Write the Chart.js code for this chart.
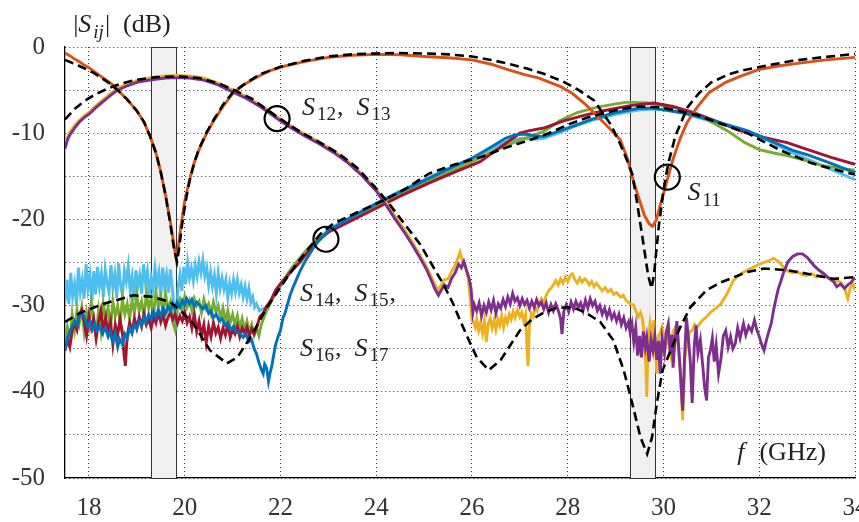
<!DOCTYPE html>
<html>
<head>
<meta charset="utf-8">
<script src="https://cdn.jsdelivr.net/npm/chart.js@4.4.1/dist/chart.umd.min.js"></script>
<style>
  html, body { margin: 0; padding: 0; background: #fff; }
  canvas { display: block; }
</style>
</head>
<body>
<canvas id="sChart" width="859" height="522"></canvas>
<script>
// axis ticks
const xTicks = [18, 20, 22, 24, 26, 28, 30, 32, 34];
const yGrid = [-50, -45, -40, -35, -30, -25, -20, -15, -10, -5, 0];
const yLabels = [-50, -40, -30, -20, -10, 0];

// shaded bands (GHz)
const bands = [[19.3, 19.83], [29.3, 29.83]];

// S11 measured / simulated
const s11Meas = [[17.5,-0.7],[17.6,-1.0],[17.7,-1.4],[17.8,-1.7],[17.9,-2.1],[18.0,-2.4],[18.1,-2.8],[18.2,-3.2],[18.35,-3.8],[18.5,-4.4],[18.6,-5.0],[18.8,-6.1],[19.0,-7.4],[19.15,-8.7],[19.28,-10.4],[19.4,-12.3],[19.5,-14.5],[19.6,-17.2],[19.7,-20.3],[19.77,-22.8],[19.82,-24.5],[19.86,-23.5],[19.92,-20.8],[20.0,-17.9],[20.1,-15.4],[20.2,-13.4],[20.3,-11.9],[20.45,-10.1],[20.6,-8.6],[20.8,-6.9],[21.0,-5.4],[21.2,-4.5],[21.5,-3.5],[21.8,-2.7],[22.1,-2.2],[22.5,-1.7],[23.0,-1.2],[23.5,-0.95],[24.0,-0.85],[24.5,-0.9],[25.0,-1.1],[25.5,-1.25],[26.0,-1.5],[26.4,-2.0],[26.8,-2.7],[27.1,-3.2],[27.4,-3.6],[27.85,-4.6],[28.1,-5.4],[28.4,-6.8],[28.65,-8.2],[28.9,-9.6],[29.1,-10.8],[29.25,-13.0],[29.37,-15.5],[29.5,-17.8],[29.6,-19.5],[29.7,-20.5],[29.77,-20.8],[29.84,-20.2],[29.93,-18.4],[30.05,-16.0],[30.2,-13.0],[30.35,-10.6],[30.5,-8.7],[30.7,-7.0],[30.95,-5.3],[31.3,-4.1],[31.6,-3.4],[32.0,-2.6],[32.4,-2.2],[32.8,-1.9],[33.4,-1.5],[34.0,-1.2]];
const s11Sim = [[17.5,-1.5],[17.8,-2.2],[18.1,-3.0],[18.4,-4.1],[18.6,-5.0],[18.8,-6.1],[19.0,-7.4],[19.15,-8.7],[19.28,-10.4],[19.4,-12.3],[19.5,-14.5],[19.6,-17.2],[19.7,-20.5],[19.78,-23.5],[19.84,-24.9],[19.88,-23.5],[19.94,-20.8],[20.02,-17.9],[20.1,-15.6],[20.2,-13.4],[20.3,-11.8],[20.45,-10.0],[20.6,-8.5],[20.8,-6.7],[21.0,-5.3],[21.3,-4.1],[21.6,-3.1],[22.0,-2.3],[22.5,-1.6],[23.0,-1.1],[23.5,-0.85],[24.0,-0.75],[24.5,-0.7],[25.0,-0.75],[25.5,-0.85],[26.0,-1.1],[26.4,-1.5],[26.8,-2.0],[27.15,-2.5],[27.5,-3.1],[27.9,-4.0],[28.2,-4.9],[28.55,-6.2],[28.9,-9.0],[29.1,-11.3],[29.25,-13.3],[29.35,-14.8],[29.45,-18.1],[29.58,-22.8],[29.68,-26.5],[29.75,-28.0],[29.8,-26.5],[29.9,-20.9],[30.0,-16.6],[30.1,-13.5],[30.25,-10.3],[30.5,-7.0],[30.75,-5.3],[31.0,-4.1],[31.35,-3.2],[31.66,-2.7],[32.2,-2.1],[32.7,-1.6],[33.3,-1.2],[34.0,-0.8]];

// S12 (yellow), S13 (purple) measured and S12 simulated
const s12Meas = [[17.5,-11.4],[17.55,-10.5],[17.6,-9.9],[17.7,-9.1],[17.8,-8.5],[17.9,-8.0],[18.0,-7.6],[18.15,-6.8],[18.3,-6.1],[18.45,-5.4],[18.6,-4.8],[18.8,-4.3],[19.0,-3.9],[19.3,-3.55],[19.6,-3.35],[19.85,-3.3],[20.1,-3.35],[20.4,-3.6],[20.7,-4.2],[21.0,-5.0],[21.3,-5.8],[21.6,-6.8],[21.93,-8.1],[22.2,-9.1],[22.5,-10.1],[22.8,-11.0],[23.1,-12.0],[23.4,-13.2],[23.7,-14.7],[24.0,-16.5],[24.2,-18.0],[24.4,-19.7],[24.6,-21.3],[24.75,-22.6],[24.92,-24.2],[25.05,-25.5],[25.13,-26.4],[25.22,-27.5],[25.3,-28.2],[25.36,-27.6],[25.42,-27.0],[25.5,-26.9],[25.58,-26.0],[25.65,-25.3],[25.7,-24.6],[25.75,-23.8],[25.8,-24.8],[25.86,-25.3],[25.92,-26.9],[25.97,-29.5],[26.0,-31.7],[26.04,-32.0],[26.07,-32.5],[26.1,-31.6],[26.14,-32.9],[26.18,-32.0],[26.22,-33.2],[26.26,-31.8],[26.3,-34.2],[26.34,-32.1],[26.38,-31.5],[26.42,-32.6],[26.46,-31.7],[26.5,-32.8],[26.54,-31.6],[26.58,-32.3],[26.62,-31.2],[26.66,-32.5],[26.7,-31.4],[26.74,-32.0],[26.78,-31.0],[26.82,-31.6],[26.86,-30.7],[26.9,-31.4],[26.95,-30.5],[27.0,-31.3],[27.04,-30.8],[27.08,-31.8],[27.12,-31.0],[27.15,-35.0],[27.17,-37.0],[27.2,-32.5],[27.24,-30.9],[27.28,-31.3],[27.32,-30.2],[27.36,-30.6],[27.4,-29.8],[27.45,-29.2],[27.5,-29.6],[27.55,-28.8],[27.6,-28.3],[27.65,-28.0],[27.7,-27.6],[27.75,-27.1],[27.8,-27.6],[27.85,-26.9],[27.9,-27.4],[27.95,-26.7],[28.0,-27.2],[28.05,-26.5],[28.1,-26.3],[28.15,-27.0],[28.2,-27.4],[28.25,-26.8],[28.3,-27.3],[28.35,-26.9],[28.4,-27.1],[28.45,-27.6],[28.5,-27.2],[28.55,-27.8],[28.6,-27.4],[28.67,-27.9],[28.72,-28.3],[28.78,-27.9],[28.84,-28.4],[28.9,-28.1],[28.96,-28.7],[29.02,-28.5],[29.1,-29.0],[29.16,-28.8],[29.22,-29.4],[29.3,-29.8],[29.37,-29.9],[29.42,-30.6],[29.47,-31.3],[29.52,-30.8],[29.56,-31.5],[29.6,-33.5],[29.63,-36.8],[29.65,-40.6],[29.68,-34.5],[29.72,-32.1],[29.76,-33.5],[29.8,-31.7],[29.83,-35.0],[29.86,-37.9],[29.9,-33.5],[29.93,-33.2],[29.97,-32.5],[30.02,-33.8],[30.06,-34.5],[30.1,-33.6],[30.15,-35.5],[30.2,-33.0],[30.25,-32.5],[30.3,-34.3],[30.35,-37.5],[30.4,-43.3],[30.45,-36.0],[30.5,-34.0],[30.55,-33.0],[30.6,-32.9],[30.65,-32.2],[30.7,-32.5],[30.8,-31.8],[30.9,-31.3],[31.0,-30.7],[31.1,-30.3],[31.2,-29.8],[31.3,-28.9],[31.4,-27.8],[31.46,-27.1],[31.55,-26.6],[31.65,-26.2],[31.75,-25.9],[31.85,-25.6],[32.0,-25.2],[32.1,-25.0],[32.2,-24.8],[32.3,-24.5],[32.4,-24.9],[32.5,-25.5],[32.6,-26.0],[32.7,-26.2],[32.8,-26.1],[32.9,-26.4],[33.0,-26.5],[33.1,-26.3],[33.2,-26.7],[33.3,-26.5],[33.4,-26.7],[33.5,-26.9],[33.6,-27.1],[33.7,-27.3],[33.75,-27.6],[33.8,-28.3],[33.85,-29.2],[33.9,-28.0],[33.95,-27.4],[34.0,-28.2]];
const s13Meas = [[17.5,-11.8],[17.55,-10.8],[17.6,-10.2],[17.7,-9.4],[17.8,-8.7],[17.9,-8.2],[18.0,-7.8],[18.15,-7.0],[18.3,-6.3],[18.45,-5.6],[18.6,-5.0],[18.8,-4.5],[19.0,-4.1],[19.3,-3.8],[19.6,-3.6],[19.85,-3.55],[20.1,-3.6],[20.4,-3.85],[20.7,-4.4],[21.0,-5.2],[21.3,-6.0],[21.6,-7.0],[21.93,-8.3],[22.2,-9.3],[22.5,-10.3],[22.8,-11.2],[23.1,-12.2],[23.4,-13.4],[23.7,-14.9],[24.0,-16.7],[24.2,-18.3],[24.4,-20.0],[24.6,-21.6],[24.75,-22.9],[24.92,-24.5],[25.05,-25.8],[25.13,-26.8],[25.22,-28.0],[25.3,-28.8],[25.36,-28.2],[25.42,-27.6],[25.5,-27.9],[25.58,-26.8],[25.65,-26.2],[25.72,-25.2],[25.78,-25.6],[25.83,-24.9],[25.88,-25.8],[25.94,-26.8],[25.98,-28.0],[26.02,-30.8],[26.05,-29.9],[26.1,-30.6],[26.15,-29.7],[26.2,-31.2],[26.25,-30.0],[26.3,-30.8],[26.35,-29.6],[26.4,-30.5],[26.45,-29.4],[26.5,-30.9],[26.55,-29.8],[26.6,-30.3],[26.65,-29.3],[26.7,-30.1],[26.75,-29.0],[26.8,-29.8],[26.85,-28.6],[26.9,-29.5],[26.95,-29.1],[27.0,-30.0],[27.05,-29.2],[27.1,-29.9],[27.15,-29.4],[27.2,-30.3],[27.25,-29.5],[27.3,-30.2],[27.35,-29.3],[27.4,-30.0],[27.45,-29.6],[27.5,-30.4],[27.55,-29.7],[27.6,-30.8],[27.65,-29.9],[27.7,-30.6],[27.75,-29.8],[27.8,-30.5],[27.85,-31.5],[27.88,-33.3],[27.92,-30.6],[27.97,-29.9],[28.02,-30.7],[28.07,-29.6],[28.12,-30.4],[28.17,-29.5],[28.22,-30.2],[28.27,-29.7],[28.32,-30.6],[28.37,-29.4],[28.42,-30.3],[28.47,-29.2],[28.52,-30.0],[28.57,-29.5],[28.62,-30.6],[28.67,-30.0],[28.72,-31.0],[28.77,-30.3],[28.82,-31.3],[28.87,-30.5],[28.92,-31.5],[28.97,-30.9],[29.02,-31.8],[29.07,-31.0],[29.12,-32.2],[29.17,-31.4],[29.22,-32.6],[29.27,-31.9],[29.3,-33.0],[29.34,-32.1],[29.38,-34.2],[29.42,-32.6],[29.46,-35.8],[29.5,-33.5],[29.54,-36.0],[29.58,-33.0],[29.62,-34.8],[29.65,-33.7],[29.7,-36.5],[29.74,-34.0],[29.78,-35.2],[29.82,-33.5],[29.86,-36.3],[29.9,-34.1],[29.93,-37.9],[29.97,-33.8],[30.02,-35.5],[30.06,-33.0],[30.1,-32.1],[30.14,-35.6],[30.18,-33.4],[30.2,-37.2],[30.24,-34.0],[30.28,-31.8],[30.32,-35.0],[30.36,-38.5],[30.4,-42.2],[30.44,-36.0],[30.48,-31.4],[30.52,-33.8],[30.56,-36.5],[30.6,-41.3],[30.64,-35.0],[30.68,-32.3],[30.72,-35.5],[30.77,-34.0],[30.82,-37.0],[30.86,-39.5],[30.9,-41.0],[30.94,-36.0],[30.98,-35.2],[31.02,-33.8],[31.06,-36.5],[31.1,-34.6],[31.15,-37.9],[31.2,-36.2],[31.25,-33.5],[31.3,-32.9],[31.35,-34.8],[31.4,-33.6],[31.45,-35.0],[31.5,-34.4],[31.55,-32.6],[31.6,-33.8],[31.67,-32.1],[31.72,-33.4],[31.78,-32.4],[31.84,-33.0],[31.9,-31.7],[31.95,-32.8],[32.0,-33.6],[32.05,-34.5],[32.1,-35.2],[32.15,-34.0],[32.2,-33.0],[32.25,-32.1],[32.3,-30.5],[32.35,-29.2],[32.4,-28.0],[32.45,-27.2],[32.5,-26.3],[32.55,-25.6],[32.6,-24.9],[32.7,-24.3],[32.8,-24.0],[32.9,-24.0],[33.0,-24.4],[33.06,-24.8],[33.15,-25.4],[33.25,-25.9],[33.35,-26.3],[33.45,-26.8],[33.55,-27.2],[33.62,-27.8],[33.7,-27.5],[33.78,-28.0],[33.85,-27.6],[33.92,-27.3],[34.0,-26.7]];
const s12Sim = [[17.5,-8.4],[17.7,-7.2],[17.9,-6.3],[18.1,-5.6],[18.4,-4.8],[18.7,-4.2],[19.0,-3.8],[19.4,-3.5],[19.85,-3.4],[20.3,-3.6],[20.7,-4.2],[21.0,-4.9],[21.4,-6.0],[21.93,-8.1],[22.4,-9.8],[22.8,-11.0],[23.2,-12.3],[23.6,-14.0],[24.0,-16.4],[24.3,-18.4],[24.6,-20.6],[24.92,-22.9],[25.2,-25.6],[25.4,-27.5],[25.6,-29.7],[25.75,-31.7],[25.95,-34.2],[26.1,-36.0],[26.35,-37.5],[26.6,-36.3],[26.8,-34.6],[27.0,-32.9],[27.25,-31.6],[27.5,-30.8],[27.75,-30.3],[27.98,-30.2],[28.2,-30.4],[28.4,-30.9],[28.68,-31.9],[28.95,-34.0],[29.17,-37.5],[29.35,-41.4],[29.52,-45.3],[29.66,-47.2],[29.76,-45.3],[29.86,-41.4],[29.98,-37.5],[30.18,-34.8],[30.35,-32.5],[30.56,-30.2],[30.9,-28.2],[31.2,-27.3],[31.75,-26.1],[32.1,-25.7],[32.6,-25.9],[33.0,-26.3],[33.55,-26.9],[34.0,-26.7]];

// S14..S17 measured and simulated
const s14Meas = [[17.5,-34.0],[17.55,-32.5],[17.6,-34.3],[17.65,-31.0],[17.7,-32.8],[17.75,-30.5],[17.8,-32.0],[17.85,-30.2],[17.9,-33.0],[17.95,-30.8],[18.0,-32.4],[18.05,-29.6],[18.1,-31.8],[18.15,-33.5],[18.2,-30.6],[18.25,-32.9],[18.3,-29.8],[18.35,-31.5],[18.4,-30.2],[18.45,-32.6],[18.5,-29.5],[18.55,-31.2],[18.6,-30.0],[18.65,-32.0],[18.7,-29.3],[18.75,-31.0],[18.8,-29.8],[18.85,-31.6],[18.9,-29.4],[18.95,-30.9],[19.0,-28.8],[19.05,-30.6],[19.1,-29.5],[19.15,-31.2],[19.2,-28.6],[19.25,-30.3],[19.3,-29.2],[19.35,-31.0],[19.4,-28.5],[19.45,-30.1],[19.5,-29.0],[19.55,-30.8],[19.6,-28.7],[19.65,-30.4],[19.7,-29.6],[19.75,-31.9],[19.8,-32.8],[19.85,-30.0],[19.9,-29.3],[19.95,-30.5],[20.0,-29.0],[20.05,-30.2],[20.1,-29.4],[20.15,-30.6],[20.2,-29.2],[20.25,-30.0],[20.3,-29.5],[20.35,-30.8],[20.4,-29.3],[20.45,-30.4],[20.5,-29.8],[20.55,-31.0],[20.6,-29.6],[20.65,-30.7],[20.7,-30.0],[20.75,-31.5],[20.8,-30.3],[20.85,-31.8],[20.9,-30.6],[20.95,-32.0],[21.0,-31.0],[21.05,-32.3],[21.1,-31.2],[21.15,-32.6],[21.2,-31.5],[21.25,-32.8],[21.3,-31.8],[21.35,-33.0],[21.4,-32.2],[21.45,-33.4],[21.5,-32.6],[21.55,-33.5],[21.6,-32.2],[21.68,-31.0],[21.8,-29.6],[21.9,-28.5],[22.0,-27.6],[22.2,-25.9],[22.4,-24.5],[22.6,-23.2],[22.8,-22.2],[23.0,-21.4],[23.5,-19.9],[24.0,-18.4],[24.5,-17.0],[25.0,-15.8],[25.5,-14.6],[26.0,-13.3],[26.5,-11.9],[27.0,-10.8],[27.5,-9.8],[27.85,-8.5],[28.2,-7.6],[28.6,-7.0],[29.0,-6.6],[29.25,-6.4],[29.66,-6.5],[30.2,-7.0],[30.63,-7.7],[31.0,-8.7],[31.33,-9.7],[31.7,-11.1],[32.0,-11.9],[32.3,-12.3],[32.58,-12.6],[33.0,-13.2],[33.27,-13.7],[33.6,-14.0],[34.0,-14.3]];
const s15Meas = [[17.5,-35.2],[17.55,-34.0],[17.6,-34.8],[17.65,-33.0],[17.7,-32.0],[17.75,-32.8],[17.8,-31.0],[17.85,-30.5],[17.9,-31.8],[17.95,-33.5],[18.0,-31.2],[18.05,-32.6],[18.1,-31.5],[18.15,-33.8],[18.2,-32.0],[18.25,-30.6],[18.3,-32.8],[18.35,-31.4],[18.4,-33.0],[18.45,-31.8],[18.5,-34.5],[18.55,-32.2],[18.6,-33.4],[18.65,-31.6],[18.7,-33.2],[18.73,-35.5],[18.76,-37.0],[18.8,-33.5],[18.85,-32.0],[18.9,-33.0],[18.95,-31.5],[19.0,-32.6],[19.05,-31.3],[19.1,-32.4],[19.15,-31.0],[19.2,-32.2],[19.25,-31.5],[19.3,-32.6],[19.35,-31.2],[19.4,-32.0],[19.45,-30.8],[19.5,-31.9],[19.55,-31.0],[19.6,-32.3],[19.65,-31.4],[19.7,-30.8],[19.75,-31.6],[19.8,-31.0],[19.85,-32.0],[19.9,-31.2],[19.95,-31.8],[20.0,-30.8],[20.05,-32.0],[20.1,-31.3],[20.15,-32.6],[20.2,-31.0],[20.25,-33.0],[20.3,-31.8],[20.35,-33.5],[20.4,-32.2],[20.45,-34.3],[20.5,-32.4],[20.55,-33.6],[20.6,-32.0],[20.65,-33.2],[20.7,-32.5],[20.75,-33.8],[20.8,-32.6],[20.85,-33.4],[20.9,-32.2],[20.95,-33.7],[21.0,-32.8],[21.05,-33.3],[21.1,-32.4],[21.15,-33.6],[21.2,-32.6],[21.25,-33.2],[21.3,-32.5],[21.35,-33.5],[21.4,-32.7],[21.45,-33.3],[21.5,-32.6],[21.57,-31.3],[21.65,-30.8],[21.7,-30.2],[21.8,-29.4],[21.9,-28.2],[22.05,-27.1],[22.2,-26.2],[22.4,-25.0],[22.6,-23.6],[22.8,-22.4],[23.0,-21.5],[23.5,-20.1],[24.0,-18.7],[24.5,-17.3],[25.1,-15.8],[25.6,-14.6],[26.17,-13.3],[26.6,-11.6],[27.0,-10.0],[27.2,-9.7],[27.5,-9.4],[27.9,-8.6],[28.3,-8.0],[28.75,-7.4],[29.3,-6.8],[29.8,-6.5],[30.2,-6.9],[30.63,-7.6],[31.1,-8.6],[31.6,-9.7],[32.1,-10.5],[32.58,-11.1],[33.06,-12.0],[33.5,-12.8],[34.0,-13.6]];
const s16Meas = [[17.5,-35.2],[17.55,-33.8],[17.6,-33.0],[17.65,-32.4],[17.7,-31.8],[17.75,-32.3],[17.8,-31.2],[17.87,-30.9],[17.92,-31.6],[17.97,-32.4],[18.02,-31.9],[18.07,-32.8],[18.12,-32.1],[18.16,-32.9],[18.22,-32.3],[18.28,-33.2],[18.34,-32.6],[18.4,-33.6],[18.44,-33.0],[18.5,-34.1],[18.55,-33.2],[18.6,-34.8],[18.64,-33.9],[18.7,-34.5],[18.75,-33.3],[18.8,-33.8],[18.85,-32.6],[18.9,-33.2],[18.95,-32.2],[19.0,-32.7],[19.05,-31.8],[19.1,-32.3],[19.15,-31.3],[19.2,-31.9],[19.25,-31.0],[19.3,-31.6],[19.35,-30.7],[19.4,-31.3],[19.45,-30.5],[19.5,-31.2],[19.55,-30.3],[19.6,-30.9],[19.65,-30.1],[19.7,-30.6],[19.75,-29.8],[19.8,-30.4],[19.84,-29.6],[19.9,-30.2],[19.95,-29.4],[20.0,-29.9],[20.04,-29.2],[20.1,-29.8],[20.15,-29.3],[20.2,-30.1],[20.25,-29.6],[20.32,-30.0],[20.38,-30.4],[20.44,-30.0],[20.5,-30.9],[20.55,-30.6],[20.6,-31.4],[20.66,-31.0],[20.72,-31.8],[20.78,-31.5],[20.84,-32.3],[20.9,-32.0],[20.96,-32.8],[21.02,-32.4],[21.08,-33.1],[21.15,-33.2],[21.22,-33.7],[21.28,-33.3],[21.34,-34.2],[21.4,-34.0],[21.45,-35.0],[21.5,-35.6],[21.55,-36.6],[21.6,-37.4],[21.64,-37.9],[21.67,-36.8],[21.71,-37.2],[21.75,-38.8],[21.78,-37.9],[21.82,-37.0],[21.85,-36.0],[21.9,-34.5],[21.95,-33.6],[22.0,-32.9],[22.05,-31.5],[22.1,-30.8],[22.14,-30.0],[22.2,-28.8],[22.27,-27.8],[22.34,-26.9],[22.4,-26.1],[22.5,-25.0],[22.6,-24.1],[22.7,-23.2],[22.8,-22.5],[22.9,-21.9],[23.0,-21.3],[23.5,-19.7],[24.0,-18.2],[24.5,-16.8],[25.0,-15.5],[25.5,-14.2],[26.0,-12.9],[26.4,-11.6],[26.7,-10.6],[26.9,-10.2],[27.1,-10.1],[27.3,-10.3],[27.5,-10.4],[27.8,-9.8],[28.1,-9.2],[28.5,-8.4],[29.0,-7.6],[29.5,-7.1],[29.8,-7.1],[30.0,-7.3],[30.4,-7.6],[30.8,-8.2],[31.2,-8.8],[31.75,-9.7],[32.2,-10.8],[32.7,-12.0],[33.0,-12.5],[33.5,-13.5],[34.0,-14.6]];
const s17Meas = [[17.5,-29.6],[17.54,-27.0],[17.58,-29.8],[17.62,-26.2],[17.66,-28.9],[17.7,-27.5],[17.74,-30.0],[17.78,-25.6],[17.82,-28.4],[17.86,-27.0],[17.9,-29.2],[17.94,-25.2],[17.98,-28.0],[18.02,-26.5],[18.06,-29.5],[18.1,-26.0],[18.14,-28.7],[18.18,-25.5],[18.22,-27.8],[18.26,-26.3],[18.3,-29.0],[18.34,-25.8],[18.38,-27.4],[18.42,-28.5],[18.46,-25.3],[18.5,-27.9],[18.54,-26.4],[18.58,-29.1],[18.62,-25.1],[18.66,-27.6],[18.7,-28.8],[18.74,-26.0],[18.78,-27.2],[18.82,-25.4],[18.86,-28.2],[18.9,-26.7],[18.94,-29.4],[18.98,-25.9],[19.02,-27.8],[19.06,-26.5],[19.1,-28.6],[19.14,-25.2],[19.18,-27.3],[19.22,-26.0],[19.26,-29.0],[19.3,-26.8],[19.34,-28.1],[19.38,-25.7],[19.42,-27.5],[19.46,-26.2],[19.5,-28.9],[19.54,-25.6],[19.58,-27.7],[19.62,-26.4],[19.66,-28.5],[19.7,-25.8],[19.74,-27.9],[19.78,-30.5],[19.82,-32.8],[19.86,-28.0],[19.9,-26.4],[19.94,-28.3],[19.98,-25.5],[20.02,-27.5],[20.06,-25.0],[20.1,-26.8],[20.14,-25.7],[20.18,-27.1],[20.22,-25.3],[20.26,-26.6],[20.3,-24.9],[20.34,-26.2],[20.38,-24.7],[20.42,-26.6],[20.46,-25.6],[20.5,-27.6],[20.54,-26.1],[20.58,-27.8],[20.62,-26.5],[20.66,-28.6],[20.7,-26.3],[20.74,-28.0],[20.78,-26.8],[20.82,-28.1],[20.86,-27.0],[20.9,-29.1],[20.94,-27.4],[20.98,-28.6],[21.02,-27.0],[21.06,-28.4],[21.1,-27.0],[21.14,-28.5],[21.18,-27.6],[21.22,-29.0],[21.26,-27.8],[21.3,-29.2],[21.34,-28.0],[21.38,-29.6],[21.42,-29.0],[21.46,-30.2],[21.5,-29.8],[21.56,-30.6],[21.62,-30.4],[21.7,-30.2],[21.8,-29.5],[22.0,-27.8],[22.2,-26.2],[22.4,-24.8],[22.6,-23.5],[22.8,-22.3],[23.0,-21.2],[23.5,-19.6],[24.0,-18.1],[24.5,-16.7],[25.0,-15.4],[25.5,-14.1],[26.0,-12.9],[26.4,-11.8],[26.7,-11.0],[27.0,-10.6],[27.3,-10.7],[27.5,-10.6],[27.8,-10.0],[28.1,-9.3],[28.5,-8.5],[29.0,-7.8],[29.5,-7.3],[29.8,-7.2],[30.0,-7.3],[30.4,-7.7],[30.8,-8.3],[31.2,-8.9],[31.75,-9.8],[32.2,-10.9],[32.7,-12.3],[33.0,-13.0],[33.5,-14.2],[34.0,-15.4]];
const s14Sim = [[17.5,-31.9],[17.8,-30.9],[18.3,-29.8],[18.93,-28.8],[19.35,-29.0],[19.7,-29.6],[19.9,-30.5],[20.18,-32.1],[20.53,-35.2],[20.88,-36.7],[21.1,-36.0],[21.37,-33.7],[21.72,-30.2],[22.14,-26.7],[22.4,-24.7],[22.83,-21.7],[23.1,-20.5],[23.6,-19.2],[24.15,-17.8],[24.6,-16.5],[25.1,-14.7],[25.6,-13.7],[26.17,-12.8],[26.7,-11.7],[27.2,-10.8],[27.6,-10.0],[28.05,-8.9],[28.4,-8.2],[28.75,-7.7],[29.1,-7.2],[29.45,-6.9],[29.93,-7.0],[30.3,-7.4],[30.7,-7.9],[31.2,-8.9],[31.75,-10.0],[32.1,-11.0],[32.45,-12.0],[32.8,-12.8],[33.1,-13.5],[33.5,-14.1],[34.0,-14.8]];

// markers (circles) and text labels in data units
const circles = [[21.93, -8.3], [30.08, -15.1], [22.95, -22.3]];
const notes = [
  { x: 22.45, y: -7.9, parts: [['S', 'i'], ['12', 's'], [',  ', ''], ['S', 'i'], ['13', 's']] },
  { x: 30.5, y: -17.8, parts: [['S', 'i'], ['11', 's']] },
  { x: 22.41, y: -29.5, parts: [['S', 'i'], ['14', 's'], [',  ', ''], ['S', 'i'], ['15', 's'], [',', '']] },
  { x: 22.41, y: -35.8, parts: [['S', 'i'], ['16', 's'], [',  ', ''], ['S', 'i'], ['17', 's']] },
  { x: 31.54, y: -47.9, parts: [['f', 'i'], ['  (GHz)', '']] },
  { x: 17.67, y: 1.7, parts: [['|', ''], ['S', 'i'], ['ij', 'si'], ['|  (dB)', '']] }
];

const FONT = '"Liberation Serif", "DejaVu Serif", serif';
const pts = a => a.map(([x, y]) => ({ x, y }));

function line(data, color, width, dashed) {
  return {
    data: pts(data),
    borderColor: color,
    borderWidth: width,
    borderDash: dashed ? [9, 5] : [],
    pointRadius: 0,
    tension: 0,
    fill: false
  };
}

const bandPlugin = {
  id: 'bands',
  beforeDatasetsDraw(chart) {
    const { ctx, chartArea, scales } = chart;
    ctx.save();
    bands.forEach(([a, b]) => {
      const x1 = scales.x.getPixelForValue(a);
      const x2 = scales.x.getPixelForValue(b);
      ctx.fillStyle = '#f0f0f0';
      ctx.fillRect(x1, chartArea.top, x2 - x1, chartArea.bottom - chartArea.top);
      ctx.strokeStyle = '#333';
      ctx.lineWidth = 1;
      ctx.strokeRect(Math.round(x1) + 0.5, chartArea.top + 0.5, Math.round(x2 - x1), chartArea.bottom - chartArea.top);
    });
    ctx.restore();
  }
};

function drawParts(ctx, x, y, parts, size) {
  let cx = x;
  parts.forEach(([t, f]) => {
    const sub = f.includes('s');
    const it = f.includes('i');
    const s = sub ? Math.round(size * 0.74) : size;
    ctx.font = (it ? 'italic ' : '') + s + 'px ' + FONT;
    ctx.fillText(t, cx, y + (sub ? size * 0.2 : 0));
    cx += ctx.measureText(t).width + (it && !sub ? 2 : 0) + (sub ? 1 : 0);
  });
}

const notePlugin = {
  id: 'notes',
  afterDraw(chart) {
    const { ctx, scales } = chart;
    ctx.save();
    ctx.strokeStyle = '#000';
    ctx.lineWidth = 2.2;
    circles.forEach(([x, y]) => {
      ctx.beginPath();
      ctx.arc(scales.x.getPixelForValue(x), scales.y.getPixelForValue(y), 12.5, 0, Math.PI * 2);
      ctx.stroke();
    });
    ctx.fillStyle = '#222';
    ctx.textBaseline = 'alphabetic';
    ctx.textAlign = 'left';
    notes.forEach(n => {
      drawParts(ctx, scales.x.getPixelForValue(n.x), scales.y.getPixelForValue(n.y), n.parts, 26);
    });
    ctx.restore();
  }
};

new Chart(document.getElementById('sChart'), {
  type: 'line',
  data: {
    datasets: [
      line(s11Sim, '#000', 2.6, true),
      line(s12Sim, '#000', 2.6, true),
      line(s14Sim, '#000', 2.6, true),
      line(s11Meas, '#D95319', 2.9),
      line(s13Meas, '#7E2F8E', 2.9),
      line(s12Meas, '#EDB120', 2.9),
      line(s16Meas, '#0072BD', 2.9),
      line(s15Meas, '#A2142F', 2.9),
      line(s14Meas, '#77AC30', 2.9),
      line(s17Meas, '#4DBEEE', 2.9)
    ]
  },
  options: {
    responsive: false,
    animation: false,
    events: [],
    layout: { padding: { top: 47, right: 4, left: 0, bottom: 0 } },
    plugins: { legend: { display: false }, tooltip: { enabled: false } },
    scales: {
      x: {
        type: 'linear',
        min: 17.5,
        max: 34,
        afterBuildTicks: s => { s.ticks = xTicks.map(v => ({ value: v })); },
        afterFit: s => { s.height = 44; s.paddingLeft = 0; s.paddingRight = 0; },
        grid: { color: '#333', lineWidth: 1, drawTicks: false },
        border: { display: true, color: '#000', width: 1.3, dash: [1, 3] },
        ticks: { autoSkip: false, maxRotation: 0, padding: 15, color: '#333', font: { family: FONT, size: 25 } }
      },
      y: {
        min: -50,
        max: 0,
        afterBuildTicks: s => { s.ticks = yGrid.map(v => ({ value: v })); },
        afterFit: s => { s.width = 65; s.paddingTop = 0; s.paddingBottom = 0; },
        grid: { color: '#333', lineWidth: 1, drawTicks: false },
        border: { display: true, color: '#000', width: 1.3, dash: [1, 3] },
        ticks: {
          autoSkip: false,
          padding: 20,
          color: '#333',
          font: { family: FONT, size: 25 },
          callback: v => yLabels.includes(v) ? String(v) : ''
        }
      }
    }
  },
  plugins: [bandPlugin, notePlugin]
});
</script>
</body>
</html>
